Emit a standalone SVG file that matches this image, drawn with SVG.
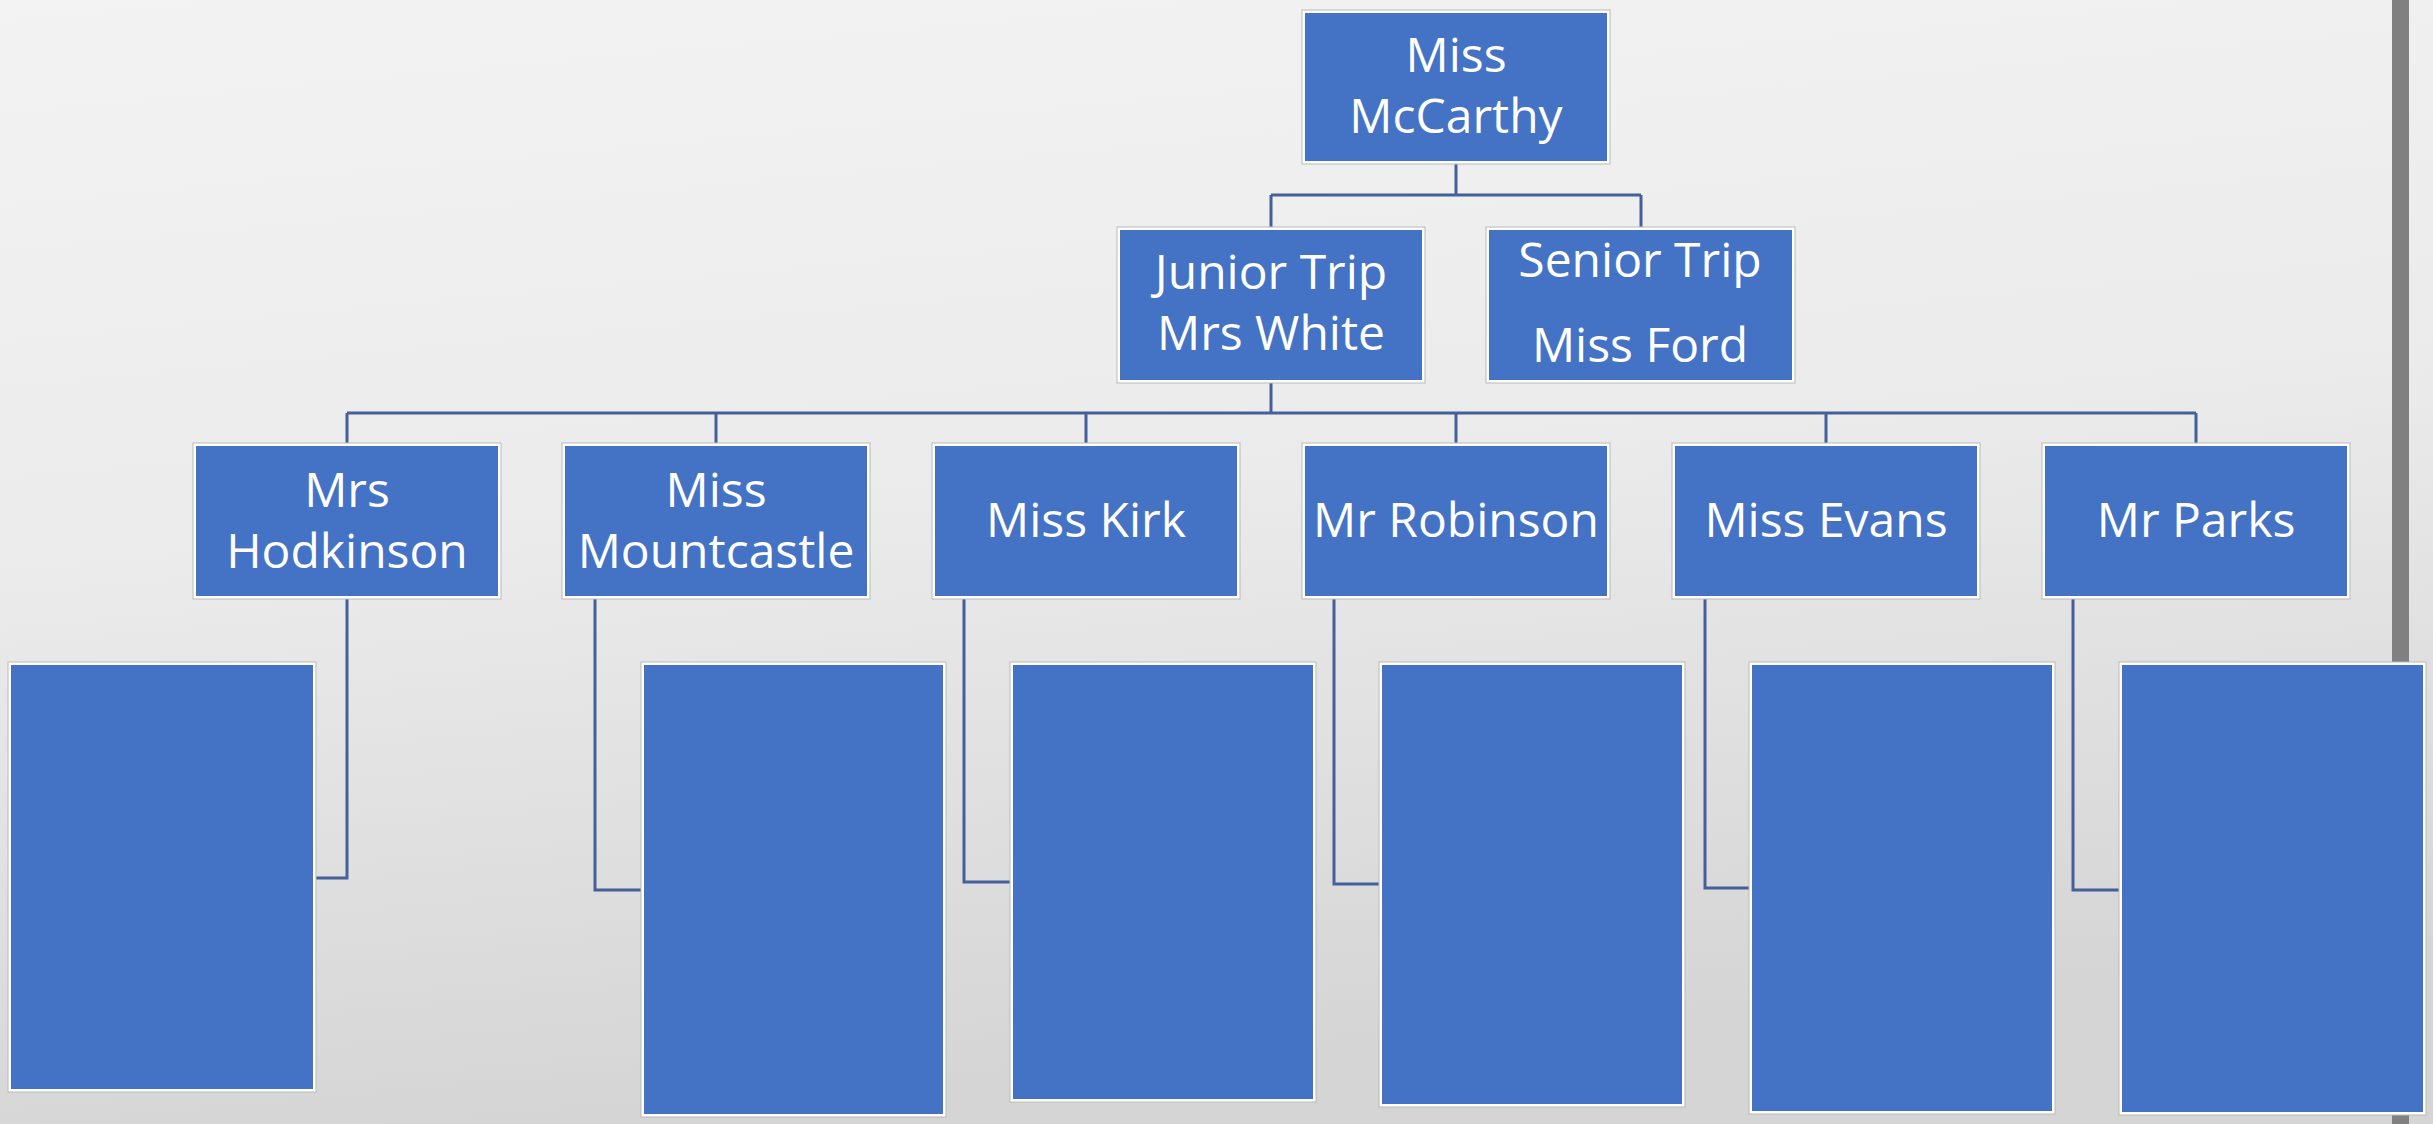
<svg xmlns="http://www.w3.org/2000/svg" width="2433" height="1124" viewBox="0 0 2433 1124">
<defs>
<linearGradient id="bg" x1="0" y1="0" x2="0.2" y2="1">
<stop offset="0" stop-color="#f3f3f3"/>
<stop offset="0.5" stop-color="#ebebeb"/>
<stop offset="1" stop-color="#d5d5d5"/>
</linearGradient>
<style>
.frame{fill:#ffffff;stroke:#b9b9b9;stroke-width:1}
.box{fill:#4472C4}
.lbl{font-family:"Open Sans","Noto Sans",sans-serif;font-size:48px;fill:#ffffff;text-anchor:middle}
.conn{fill:none;stroke:#44609a;stroke-width:3}
</style>
</defs>
<rect x="0" y="0" width="2433" height="1124" fill="url(#bg)"/>
<rect x="2392" y="0" width="17" height="1124" fill="#808080"/>

<g id="connectors" class="conn">
<path d="M1456 164 V195 M1271 195 H1641 M1271 195 V227 M1641 195 V227"/>
<path d="M1271 383 V413 M347 413 H2196 M347 413 V443 M716 413 V443 M1086 413 V443 M1456 413 V443 M1826 413 V443 M2196 413 V443"/>
<path d="M347 599 V878 H316"/>
<path d="M595 599 V890 H641"/>
<path d="M964 599 V882 H1010"/>
<path d="M1334 599 V884 H1379"/>
<path d="M1705 599 V888 H1749"/>
<path d="M2073 599 V890 H2119"/>
</g>

<g id="n-mccarthy">
<rect class="frame" x="1302" y="10" width="308" height="154"/>
<rect class="box" x="1305" y="13" width="302" height="148"/>
<text class="lbl" x="1456" y="72">Miss</text>
<text class="lbl" x="1456" y="133">McCarthy</text>
</g>
<g id="n-junior">
<rect class="frame" x="1117" y="227" width="308" height="156"/>
<rect class="box" x="1120" y="230" width="302" height="150"/>
<text class="lbl" x="1271" y="289">Junior Trip</text>
<text class="lbl" x="1271" y="350">Mrs White</text>
</g>
<g id="n-senior">
<rect class="frame" x="1486" y="227" width="309" height="156"/>
<rect class="box" x="1489" y="230" width="303" height="150"/>
<text class="lbl" x="1640" y="277">Senior Trip</text>
<text class="lbl" x="1640" y="362">Miss Ford</text>
</g>

<g id="n-hodkinson">
<rect class="frame" x="193" y="443" width="308" height="156"/>
<rect class="box" x="196" y="446" width="302" height="150"/>
<text class="lbl" x="347" y="507">Mrs</text>
<text class="lbl" x="347" y="568">Hodkinson</text>
</g>
<g id="n-mountcastle">
<rect class="frame" x="562" y="443" width="308" height="156"/>
<rect class="box" x="565" y="446" width="302" height="150"/>
<text class="lbl" x="716" y="507">Miss</text>
<text class="lbl" x="716" y="568">Mountcastle</text>
</g>
<g id="n-kirk">
<rect class="frame" x="932" y="443" width="308" height="156"/>
<rect class="box" x="935" y="446" width="302" height="150"/>
<text class="lbl" x="1086" y="537">Miss Kirk</text>
</g>
<g id="n-robinson">
<rect class="frame" x="1302" y="443" width="308" height="156"/>
<rect class="box" x="1305" y="446" width="302" height="150"/>
<text class="lbl" x="1456" y="537">Mr Robinson</text>
</g>
<g id="n-evans">
<rect class="frame" x="1672" y="443" width="308" height="156"/>
<rect class="box" x="1675" y="446" width="302" height="150"/>
<text class="lbl" x="1826" y="537">Miss Evans</text>
</g>
<g id="n-parks">
<rect class="frame" x="2042" y="443" width="308" height="156"/>
<rect class="box" x="2045" y="446" width="302" height="150"/>
<text class="lbl" x="2196" y="537">Mr Parks</text>
</g>

<g id="n-hodkinson-team">
<rect class="frame" x="8" y="662" width="308" height="430"/>
<rect class="box" x="11" y="665" width="302" height="424"/>
</g>
<g id="n-mountcastle-team">
<rect class="frame" x="641" y="662" width="305" height="455"/>
<rect class="box" x="644" y="665" width="299" height="449"/>
</g>
<g id="n-kirk-team">
<rect class="frame" x="1010" y="662" width="306" height="440"/>
<rect class="box" x="1013" y="665" width="300" height="434"/>
</g>
<g id="n-robinson-team">
<rect class="frame" x="1379" y="662" width="306" height="445"/>
<rect class="box" x="1382" y="665" width="300" height="439"/>
</g>
<g id="n-evans-team">
<rect class="frame" x="1749" y="662" width="306" height="452"/>
<rect class="box" x="1752" y="665" width="300" height="446"/>
</g>
<g id="n-parks-team">
<rect class="frame" x="2119" y="662" width="307" height="453"/>
<rect class="box" x="2122" y="665" width="301" height="447"/>
</g>
</svg>
